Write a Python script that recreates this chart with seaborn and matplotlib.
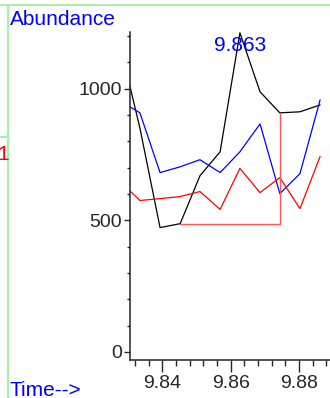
import matplotlib
matplotlib.use("Agg")
import matplotlib.pyplot as plt
import seaborn as sns
import pandas as pd
from matplotlib.lines import Line2D
from matplotlib.ticker import MultipleLocator

# retention times (min) of the scans
times = [9.8276, 9.8334, 9.8393, 9.8452, 9.8510, 9.8569, 9.8627, 9.8686, 9.8744, 9.8803, 9.8862]
# abundances of the three traces
black_vals = [1165, 850, 472, 487, 669, 760, 1212, 988, 908, 912, 938]
blue_vals = [953, 908, 681, 703, 730, 681, 760, 866, 601, 677, 957]
red_vals = [647, 575, 582, 590, 609, 541, 697, 605, 662, 544, 742]
trace_names = ["tic", "ion1", "ion2"]
trace_colors = ["black", "blue", "red"]

# integration baseline drawn under the peak
base_times = [9.8452, 9.8744, 9.8744]
base_vals = [487, 487, 908]

peak_label = "9.863"
peak_time = 9.8627

sns.set_style("ticks")
plt.rcParams["font.family"] = ["Liberation Sans", "DejaVu Sans"]

df = pd.DataFrame({
    "time": times * 3,
    "abundance": black_vals + blue_vals + red_vals,
    "trace": [trace_names[0]] * len(times) + [trace_names[1]] * len(times) + [trace_names[2]] * len(times),
})
base_df = pd.DataFrame({"time": base_times, "abundance": base_vals})

fig = plt.figure(figsize=(3.3, 3.98), dpi=100)
ax = fig.add_axes([0.394, 0.0955, 0.606, 0.824])

sns.lineplot(data=df, x="time", y="abundance", hue="trace", palette=trace_colors,
             sort=False, estimator=None, linewidth=0.9, legend=False, ax=ax)
sns.lineplot(data=base_df, x="time", y="abundance", color="#ff5555",
             sort=False, estimator=None, linewidth=1.0, legend=False, ax=ax)

ax.set_xlim(9.8305, 9.8891)
ax.set_ylim(-31, 1215)
ax.set_xlabel("")
ax.set_ylabel("")
ax.xaxis.set_major_locator(MultipleLocator(0.02))
ax.xaxis.set_minor_locator(MultipleLocator(0.004))
ax.yaxis.set_major_locator(MultipleLocator(500))
ax.yaxis.set_minor_locator(MultipleLocator(100))
ax.set_xticks([9.84, 9.86, 9.88])
ax.set_xticklabels(["9.84", "9.86", "9.88"])
sns.despine(ax=ax)
for s in ["left", "bottom"]:
    ax.spines[s].set_linewidth(1.1)
ax.tick_params(axis="x", which="major", length=8.5, width=1, labelsize=14, pad=2)
ax.tick_params(axis="x", which="minor", length=4.3, width=1)
ax.tick_params(axis="y", which="major", length=4.3, width=1, labelsize=14, pad=1.5)
ax.tick_params(axis="y", which="minor", length=2, width=1)

ax.text(peak_time, 0.942, peak_label, transform=ax.get_xaxis_transform(),
        ha="center", va="baseline", color="blue", fontsize=15)

# frame decorations around the plot
green = "#a8f0a8"
W, H = 330, 398
fig.add_artist(Line2D([0, 1], [1 - 4.7 / H] * 2, color=green, lw=1.5))
fig.add_artist(Line2D([8.3 / W] * 2, [0, 1 - 4.7 / H], color=green, lw=1.5))
fig.add_artist(Line2D([0, 8.3 / W], [1 - 137 / H] * 2, color=green, lw=1.5))

fig.text(10 / W, 1 - 25 / H, "Abundance", color="blue", fontsize=15, va="baseline")
fig.text(10 / W, 1 - 396 / H, "Time-->", color="blue", fontsize=15, va="baseline")
fig.text(-3 / W, 1 - 160 / H, "1", color="red", fontsize=15, va="baseline")

fig.savefig("out.png", dpi=100)
